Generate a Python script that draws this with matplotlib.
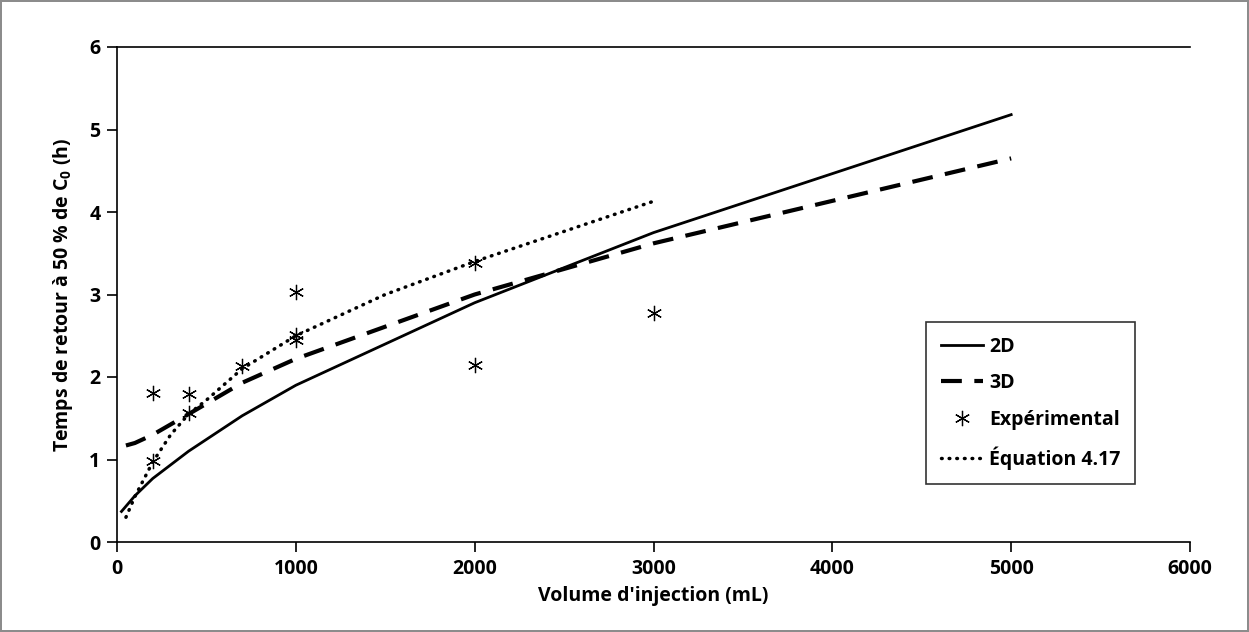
import numpy as np
import matplotlib.pyplot as plt

plt.rcParams['font.family'] = ['Open Sans', 'DejaVu Sans']
plt.rcParams['font.weight'] = 'bold'
plt.rcParams['mathtext.fontset'] = 'custom'
plt.rcParams['mathtext.rm'] = 'Open Sans:bold'
plt.rcParams['mathtext.bf'] = 'Open Sans:bold'

## donnees
x_2d = [25, 100, 200, 400, 700, 1000, 2000, 3000, 5000]
y_2d = [0.37, 0.56, 0.77, 1.1, 1.53, 1.9, 2.9, 3.75, 5.18]

x_3d = [50, 100, 200, 400, 700, 1000, 2000, 3000, 5000]
y_3d = [1.17, 1.2, 1.3, 1.55, 1.93, 2.22, 3.0, 3.62, 4.65]

x_eq = [50, 100, 200, 300, 400, 500, 700, 1000, 1500, 2000, 3000]
y_eq = [0.3, 0.55, 0.97, 1.3, 1.55, 1.72, 2.1, 2.5, 3.0, 3.4, 4.13]

x_exp = [200, 200, 400, 400, 700, 1000, 1000, 1000, 2000, 2000, 3000]
y_exp = [1.81, 0.98, 1.79, 1.56, 2.13, 3.03, 2.51, 2.45, 3.38, 2.14, 2.78]

fig = plt.figure(figsize=(12.49, 6.32), dpi=100, linewidth=1.5, edgecolor='#8c8c8c')
ax = fig.add_axes([117/1249, 1-542/632, (1190-117)/1249, (542-47)/632])

ax.plot(x_2d, y_2d, color='black', lw=2, label='2D')
ax.plot(x_3d, y_3d, color='black', lw=3, dashes=(5, 3), label='3D')
ax.plot(x_exp, y_exp, ls='none', marker=(6, 2, 0), ms=11, mew=0.9,
        color='black', label='Expérimental')
ax.plot(x_eq, y_eq, color='black', lw=2.5, ls=(0, (0.2, 2.0)),
        dash_capstyle='round', label='Équation 4.17')

ax.set_xlim(0, 6000)
ax.set_ylim(0, 6)
ax.set_xticks(np.arange(0, 6001, 1000))
ax.set_yticks(np.arange(0, 7, 1))
ax.spines['right'].set_visible(False)
ax.spines['top'].set_linewidth(1.2)
ax.spines['left'].set_linewidth(1.2)
ax.spines['bottom'].set_linewidth(1.2)
ax.tick_params(direction='out', length=7, width=1.2, labelsize=14, pad=5)
for lab in ax.get_xticklabels() + ax.get_yticklabels():
    lab.set_fontweight('bold')

ax.set_xlabel("Volume d'injection (mL)", fontsize=14, fontweight='bold', labelpad=5)
ax.set_ylabel(r"Temps de retour à 50 % de C$_0$ (h)", fontsize=14,
              fontweight='bold', labelpad=10)

leg = ax.legend(loc='upper left', bbox_to_anchor=((926-117)/1073, (542-322)/495),
                frameon=True, fancybox=False, edgecolor='black',
                prop={'size': 14, 'weight': 'bold'},
                handlelength=2.2, handletextpad=0.3, labelspacing=0.85,
                borderpad=0.75, borderaxespad=0)
leg.get_frame().set_linewidth(1.2)

fig.savefig('out.png', dpi=100)
